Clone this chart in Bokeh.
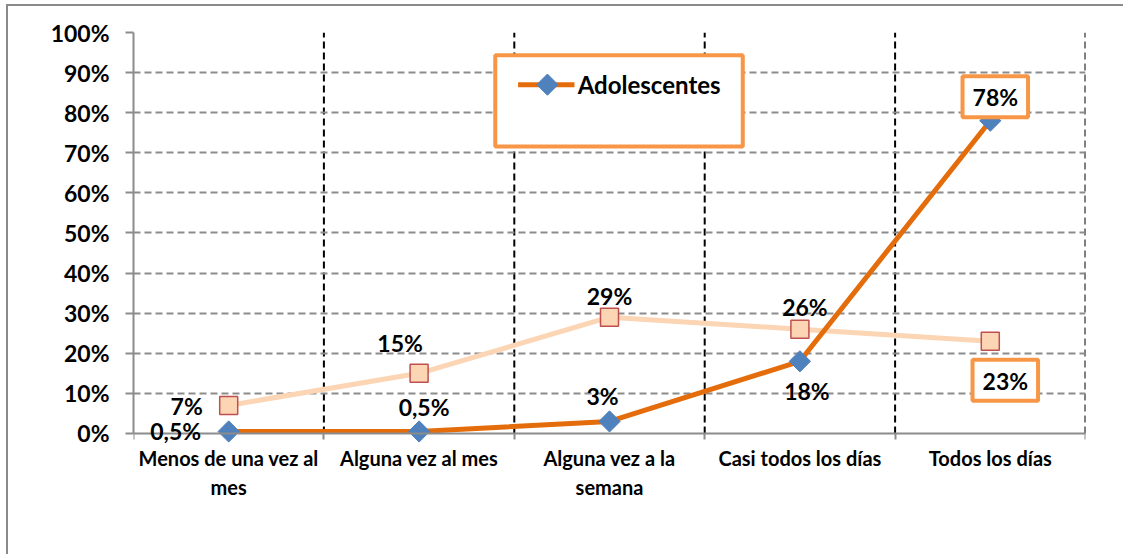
from bokeh.plotting import figure
from bokeh.models import (Range1d, FixedTicker, PrintfTickFormatter, ColumnDataSource,
                          BoxAnnotation, Label)
from bokeh.core.properties import value
from bokeh.embed import file_html
from bokeh.resources import INLINE
import math

categories = ["Menos de una vez al\nmes", "Alguna vez al mes", "Alguna vez a la\nsemana",
              "Casi todos los días", "Todos los días"]
adolescentes = [0.5, 0.5, 3, 18, 78]
serie2 = [7, 15, 29, 26, 23]
y_ticks = [0, 10, 20, 30, 40, 50, 60, 70, 80, 90, 100]
legend_label = "Adolescentes"

FONT_NAME = "Lato"
FONT = value(FONT_NAME)
DARK = "#E46C0A"
LIGHT = "#FCD5B5"
BLUE = "#4F81BD"
RED = "#C0504D"
ORANGE = "#F79646"
GRID = "#8C8C8C"

n = len(categories)
xs = [i + 0.5 for i in range(n)]
boundaries = list(range(1, n + 1))
y_max = y_ticks[-1]

def fmt(v):
    return ("%g" % v).replace(".", ",") + "%"

# extra room below 0 inside the frame so labels at 0 are not clipped
p = figure(width=1117, height=550, output_backend="svg", toolbar_location=None,
           x_range=Range1d(0, n), y_range=Range1d(-21.7, y_max),
           min_border_left=125, min_border_right=40, min_border_top=26, min_border_bottom=36)
p.styles = {"margin-left": "6px", "margin-top": "4px",
            "border-left": "2px solid #8A8A8A", "border-top": "2px solid #8A8A8A"}
p.outline_line_color = None
p.background_fill_color = "white"
p.border_fill_color = "white"

# axes
xa = p.xaxis[0]
xa.fixed_location = 0
xa.ticker = FixedTicker(ticks=xs, minor_ticks=list(range(n + 1)))
xa.major_label_overrides = {x: c for x, c in zip(xs, categories)}
xa.major_tick_line_color = None
xa.major_tick_out = 0
xa.minor_tick_line_color = GRID
xa.minor_tick_line_width = 2
xa.minor_tick_out = 6
xa.minor_tick_in = 0
xa.axis_line_color = GRID
xa.axis_line_width = 2
xa.major_label_text_font = FONT_NAME
xa.major_label_text_font_style = "bold"
xa.major_label_text_font_size = "20px"
xa.major_label_text_color = "black"
xa.major_label_standoff = 7

ya = p.yaxis[0]
ya.bounds = (0, y_max)
ya.ticker = FixedTicker(ticks=y_ticks)
ya.formatter = PrintfTickFormatter(format="%d%%")
ya.minor_tick_line_color = None
ya.major_tick_line_color = GRID
ya.major_tick_line_width = 2
ya.major_tick_out = 8
ya.major_tick_in = 0
ya.axis_line_color = GRID
ya.axis_line_width = 2
ya.major_label_text_font = FONT_NAME
ya.major_label_text_font_style = "bold"
ya.major_label_text_font_size = "23px"
ya.major_label_text_color = "black"
ya.major_label_standoff = 16

# grids
p.ygrid[0].ticker = FixedTicker(ticks=y_ticks[1:])
p.ygrid[0].grid_line_color = GRID
p.ygrid[0].grid_line_width = 2
p.ygrid[0].grid_line_dash = "7 4"
p.xgrid[0].visible = False
# vertical category separators (from 0 to top)
vsep = p.segment(x0=boundaries, y0=[0] * n, x1=boundaries, y1=[y_max] * n,
                 line_color="black", line_width=2, line_dash="7 4")
vsep.level = "underlay"

# series
s2 = ColumnDataSource(dict(x=xs, y=serie2))
s1 = ColumnDataSource(dict(x=xs, y=adolescentes))
p.line("x", "y", source=s2, line_color=LIGHT, line_width=5)
p.scatter("x", "y", source=s2, marker="square", size=18, fill_color=LIGHT,
          line_color=RED, line_width=1.5)
p.line("x", "y", source=s1, line_color=DARK, line_width=5)
p.scatter("x", "y", source=s1, marker="square", angle=math.pi / 4, size=15,
          fill_color=BLUE, line_color=BLUE, line_width=1)

# data labels (offsets in px, up positive)
off1 = [(-53, 0), (5, 24), (-7, 25), (7, -30), (5, 24)]
off2 = [(-42, -1), (-19, 30), (0, 21), (5, 22), (15, -39)]
boxed1 = [False, False, False, False, True]
boxed2 = [False, False, False, False, True]

def add_labels(vals, offs, boxed):
    for i in range(n):
        kw = dict(x=xs[i], y=vals[i], text=fmt(vals[i]),
                  x_offset=offs[i][0], y_offset=offs[i][1],
                  text_align="center", text_baseline="middle",
                  text_font=FONT_NAME, text_font_style="bold",
                  text_font_size="23px", text_color="black", level="overlay")
        if boxed[i]:
            kw.update(background_fill_color="white", background_fill_alpha=1,
                      border_line_color=ORANGE, border_line_width=4,
                      padding=dict(left=10, right=10, top=7, bottom=6))
        p.add_layout(Label(**kw))

add_labels(adolescentes, off1, boxed1)
add_labels(serie2, off2, boxed2)

# legend (manual)
p.add_layout(BoxAnnotation(left=1.90, right=3.20, bottom=71.6, top=94.3,
                           fill_color="white", fill_alpha=1, line_color=ORANGE,
                           line_width=4, line_alpha=1))
lg = p.line([2.02, 2.316], [87.0, 87.0], line_color=DARK, line_width=5)
lg.level = "overlay"
lm = p.scatter([2.174], [87.0], marker="square", angle=math.pi / 4, size=15,
               fill_color=BLUE, line_color=BLUE)
lm.level = "overlay"
lt = p.text([2.333], [87.0], text=[legend_label], text_align="left", text_baseline="middle",
            text_font=FONT, text_font_style="bold", text_font_size="24px", text_color="black")
lt.level = "overlay"

open("out.html", "w").write(file_html(p, INLINE))
